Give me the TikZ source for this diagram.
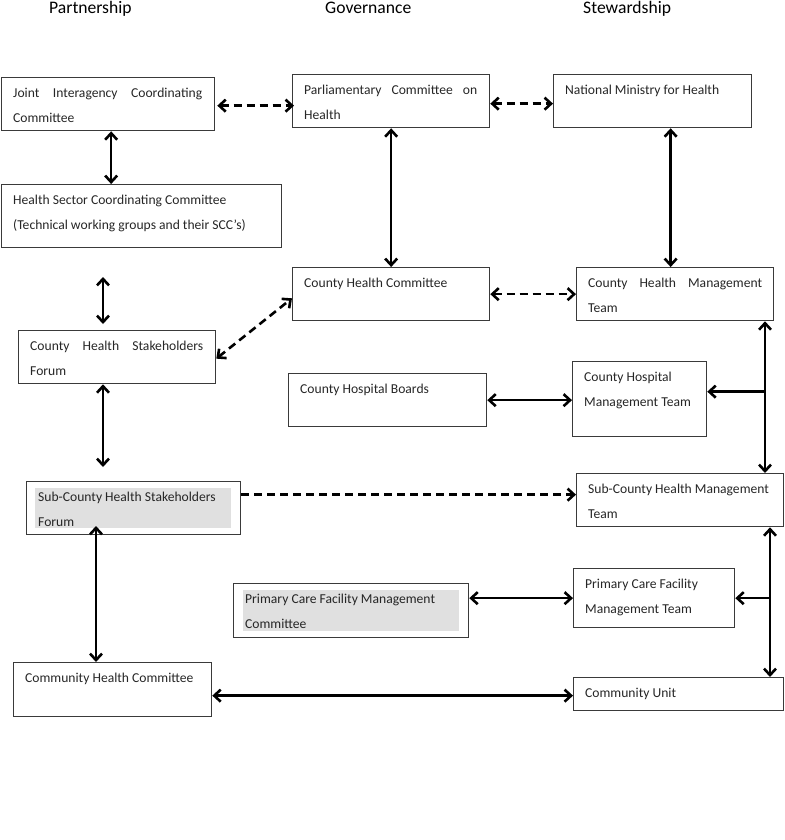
\documentclass[tikz,border=0pt]{standalone}
\usepackage{fontspec}
\setmainfont{Carlito}
\usetikzlibrary{arrows.meta,calc}
\definecolor{boxc}{HTML}{3A3A3A}
\definecolor{txtc}{HTML}{262626}
\definecolor{graybg}{HTML}{E0E0E0}
\newcommand{\jl}[2]{\makebox[#1pt][s]{#2}}
\newcommand{\orgbox}[6]{%
  \node[box,minimum width=#4pt,minimum height=#5pt] (#1) at (#2,#3) {};
  \node[txt] (#1-t) at ($(#1.north west)+(12,8)$) {\rule{0pt}{12pt}#6};}
\begin{document}
\begin{tikzpicture}[x=1pt,y=-1pt,
  box/.style={draw=boxc,line width=1.3pt,inner sep=0pt,anchor=north west},
  txt/.style={inner sep=0pt,anchor=north west,align=left,text=txtc,
    font=\fontsize{13.6}{25}\selectfont},
  hdr/.style={inner sep=0pt,anchor=base west,font=\fontsize{17.6}{20}\selectfont},
  tip/.tip={Straight Barb[length=6.5pt,width=12pt]},
  con/.style={line width=2.6pt,black},
  both/.style={con,tip-tip},
  one/.style={con,-tip},
  dsh/.style={dash pattern=on 8pt off 5pt}]
\useasboundingbox (0,0) rectangle (784,840);
% headers
\node[hdr] (h1) at (49,14) {Partnership};
\node[hdr] (h2) at (325,14) {Governance};
\node[hdr] (h3) at (583,14) {Stewardship};
% gray highlights
\fill[graybg] (35,488) rectangle (231,528);
\fill[graybg] (243,590) rectangle (459,631);
% boxes
\orgbox{jicc}{1}{77}{213}{53}{\jl{189}{Joint Interagency Coordinating}\\Committee}
\orgbox{hscc}{1}{184}{280}{63}{Health Sector Coordinating Committee\\(Technical working groups and their SCC’s)}
\orgbox{parl}{292}{74}{197}{53}{\jl{173}{Parliamentary Committee on}\\Health}
\orgbox{nmh}{553}{74}{198}{53}{National Ministry for Health}
\orgbox{chc}{292}{267}{197}{53}{County Health Committee}
\orgbox{chmt}{576}{267}{197}{53}{\jl{174}{County Health Management}\\Team}
\orgbox{chsf}{18}{330}{197}{53}{\jl{173}{County Health Stakeholders}\\Forum}
\orgbox{schsf}{26}{481}{214}{53}{Sub-County Health Stakeholders\\Forum}
\orgbox{chb}{288}{373}{198}{53}{County Hospital Boards}
\orgbox{chospmt}{572}{361}{134}{75}{County Hospital\\Management Team}
\orgbox{schmt}{576}{473}{207}{53}{Sub-County Health Management\\Team}
\orgbox{pcfmc}{233}{583}{235}{54}{Primary Care Facility Management\\Committee}
\orgbox{pcfmt}{573}{568}{161}{59}{Primary Care Facility\\Management Team}
\orgbox{comhc}{13}{662}{198}{54}{Community Health Committee}
\orgbox{cu}{573}{677}{210}{33}{Community Unit}
% helper coordinates
\coordinate (f1) at (103,277);
\coordinate (f2) at (103,324);
\coordinate (f3) at (103,467);
\coordinate (s1) at (96,526);
\coordinate (r1) at (765,0);
\coordinate (r2) at (770,0);
\coordinate (c1) at ([yshift=7.5pt]chospmt.east);
% connectors
\draw[both,dsh] ([xshift=2pt,yshift=-1.5pt]jicc.east) -- ([xshift=2pt,yshift=-1.5pt]jicc.east -| parl.west);
\draw[both,dsh] ([yshift=-2.5pt]parl.east) -- ([yshift=-2.5pt]parl.east -| nmh.west);
\draw[both] ([xshift=3pt]jicc.south) -- ([xshift=3pt]jicc.south |- hscc.north);
\draw[both] (parl.south) -- (parl.south |- chc.north);
\draw[both] ([xshift=-4.5pt]chmt.north |- nmh.south) -- ([xshift=-4.5pt]chmt.north);
\draw[both,dsh] (chc.east) -- (chc.east -| chmt.west);
\draw[both] (f1) -- (f2);
\draw[both,dsh] ([yshift=-1.5pt]chsf.east) -- ([yshift=23pt]chc.south west);
\draw[both] (f3 |- chsf.south) -- (f3);
\draw[one,dsh] ([yshift=13.5pt]schsf.east) -- ([yshift=13.5pt]schsf.east -| schmt.west);
\draw[both] (s1) -- (s1 |- comhc.north);
\draw[both] (chb.east) -- (chb.east -| chospmt.west);
\draw[both] (r1 |- chmt.south) -- (r1 |- schmt.north);
\draw[one] (r1 |- c1) -- (c1);
\draw[both] (r2 |- schmt.south) -- (r2 |- cu.north);
\draw[one] (r2 |- pcfmt.east) -- (pcfmt.east);
\draw[both] (pcfmt.west -| pcfmc.east) -- (pcfmt.west);
\draw[both] ([yshift=-1.5pt]cu.west -| comhc.east) -- ([yshift=-1.5pt]cu.west);
\end{tikzpicture}
\end{document}
